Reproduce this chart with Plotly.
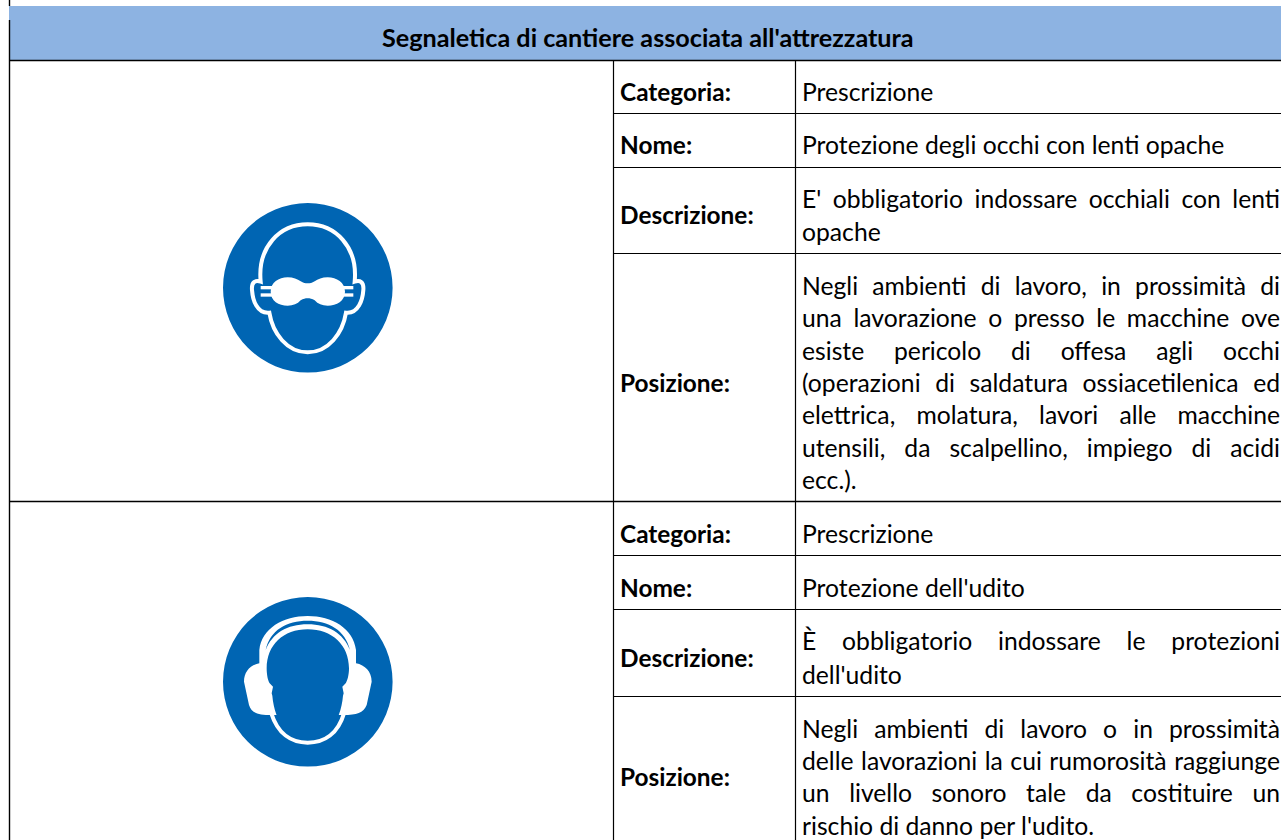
import json
import plotly.graph_objects as go

TITLE = "Segnaletica di cantiere associata all'attrezzatura"
LABELS = [("Categoria:", 92), ("Nome:", 145), ("Descrizione:", 215), ("Posizione:", 383),
          ("Categoria:", 534), ("Nome:", 588), ("Descrizione:", 658), ("Posizione:", 777)]
# (y centre, text, justified to the cell's right edge?)
LINES = [
    (92, "Prescrizione", False),
    (145, "Protezione degli occhi con lenti opache", False),
    (199, "E' obbligatorio indossare occhiali con lenti", True),
    (232, "opache", False),
    (286, "Negli ambienti di lavoro, in prossimità di", True),
    (318, "una lavorazione o presso le macchine ove", True),
    (351, "esiste pericolo di offesa agli occhi", True),
    (383, "(operazioni di saldatura ossiacetilenica ed", True),
    (415, "elettrica, molatura, lavori alle macchine", True),
    (448, "utensili, da scalpellino, impiego di acidi", True),
    (480, "ecc.).", False),
    (534, "Prescrizione", False),
    (588, "Protezione dell'udito", False),
    (641, "È obbligatorio indossare le protezioni", True),
    (675, "dell'udito", False),
    (729, "Negli ambienti di lavoro o in prossimità", True),
    (761, "delle lavorazioni la cui rumorosità raggiunge", True),
    (793, "un livello sonoro tale da costituire un", True),
    (826, "rischio di danno per l'udito.", False),
]
H_FULL = [60.5, 501.5]
H_RIGHT = [113.5, 167.5, 253.5, 555.5, 609.5, 696.5]
V_COLS = [613.5, 795.5]

BLUE = "#0065B3"
FONT = "Lato"
SIZE = 24.7
BOLD = 24.4
TITLE_SIZE = 25.2
TEXT_X = 800.5
TEXT_W = 478


def path(ox, oy, d):
    """Icon outline written in 3x-zoom units; converted to page units."""
    out = []
    for tok in d.split():
        if "," in tok:
            a, b = tok.split(",")
            out.append(f"{ox + float(a) / 3:.2f},{oy + float(b) / 3:.2f}")
        else:
            out.append(tok)
    return " ".join(out)


def shape_path(ox, oy, d, fill=None, line=None, w=0):
    s = dict(type="path", xref="x", yref="y", path=path(ox, oy, d), layer="above")
    s["fillcolor"] = fill if fill else "rgba(0,0,0,0)"
    s["line"] = dict(color=line, width=w) if line else dict(width=0)
    return s


def seg(x0, y0, x1, y1, w=1.4):
    return dict(type="line", xref="x", yref="y", x0=x0, y0=y0, x1=x1, y1=y1,
                line=dict(color="#000000", width=w), layer="above")


shapes = [dict(type="rect", xref="x", yref="y", x0=9, x1=1281, y0=6, y1=60,
               fillcolor="#8DB3E2", line=dict(width=0), layer="below")]
shapes += [seg(9.5, 0, 9.5, 6), seg(9.5, 20, 9.5, 840)]
shapes += [seg(9, y, 1281, y) for y in H_FULL]
shapes += [seg(613.5, y, 1281, y, 1.2) for y in H_RIGHT]
shapes += [seg(x, 60, x, 840, 1.2) for x in V_COLS]

# icon 1 : opaque goggles
ox, oy = 200, 190
shapes.append(dict(type="circle", xref="x", yref="y", x0=223, x1=392.6, y0=203, y1=372.6,
                   fillcolor=BLUE, line=dict(width=0), layer="above"))
shapes.append(shape_path(ox, oy,
    "M 182,275 C 172,170 240,103 323,103 C 406,103 474,170 464,275 C 480,270 492,275 490,300 "
    "C 488,330 475,372 438,368 C 428,430 385,487 323,487 C 261,487 218,430 208,368 "
    "C 171,372 158,330 156,300 C 154,275 166,270 182,275 Z", line="#FFFFFF", w=4))
shapes.append(shape_path(ox, oy,
    "M 212,305 C 212,278 236,262 263,262 C 280,262 292,267 302,274 C 310,279 316,280 323,280 "
    "C 330,280 336,279 344,274 C 354,267 366,262 383,262 C 410,262 435,278 435,305 "
    "C 435,332 410,347 383,347 C 366,347 354,342 344,331 C 336,326 330,325 323,325 "
    "C 316,325 310,326 302,331 C 292,342 280,347 263,347 C 236,347 212,332 212,305 Z", fill="#FFFFFF"))
for d in ["M 182,288 L 222,288 L 222,298 L 182,298 Z", "M 182,310 L 222,310 L 222,320 L 182,320 Z",
          "M 425,288 L 460,288 L 460,298 L 425,298 Z", "M 425,310 L 460,310 L 460,320 L 425,320 Z"]:
    shapes.append(shape_path(ox, oy, d, fill="#FFFFFF"))

# icon 2 : ear defenders
ox, oy = 200, 585
shapes.append(dict(type="circle", xref="x", yref="y", x0=223, x1=392.6, y0=597, y1=766.6,
                   fillcolor=BLUE, line=dict(width=0), layer="above"))
shapes.append(shape_path(ox, oy,
    "M 178,235 L 178,195 C 185,130 250,93 323,93 C 396,93 460,130 468,195 L 468,235 "
    "C 495,240 515,260 515,290 L 500,360 C 490,385 470,390 430,390 L 215,390 "
    "C 175,390 155,385 147,360 L 132,290 C 132,260 150,240 178,235 Z", fill="#FFFFFF"))
shapes.append(shape_path(ox, oy,
    "M 197,195 C 210,135 260,107 323,107 C 386,107 436,135 450,195 "
    "C 430,145 385,118 323,118 C 261,118 217,145 197,195 Z", fill=BLUE))
shapes.append(shape_path(ox, oy,
    "M 200,250 C 200,180 250,133 323,133 C 396,133 447,180 447,250 C 447,270 442,288 437,295 "
    "L 427,305 L 431,325 L 429,332 C 422,415 375,466 323,466 C 271,466 224,415 217,332 "
    "L 215,325 L 219,305 L 209,295 C 204,288 200,270 200,250 Z", fill=BLUE))
shapes.append(shape_path(ox, oy,
    "M 214,385 C 233,445 273,473 323,473 C 374,473 414,445 432,385", line="#FFFFFF", w=4))

annotations = [dict(x=647.5, y=37, text=f"<b>{TITLE}</b>", xanchor="center", yanchor="middle",
                    showarrow=False, font=dict(family=FONT, size=TITLE_SIZE, color="#000000"))]
for text, y in LABELS:
    annotations.append(dict(x=619, y=y - 1, text=f"<b>{text}</b>", xanchor="left", yanchor="middle",
                            showarrow=False, font=dict(family=FONT, size=BOLD, color="#000000")))
for y, text, _ in LINES:
    annotations.append(dict(x=TEXT_X, y=y - 1, text=text, xanchor="left", yanchor="middle", align="left",
                            showarrow=False, font=dict(family=FONT, size=SIZE, color="#000000")))
for a in annotations:
    a.update(xref="x", yref="y", borderpad=0)

fig = go.Figure()
fig.add_trace(go.Scatter(x=[], y=[]))
fig.update_layout(
    width=1281, height=840, margin=dict(l=0, r=0, t=0, b=0),
    paper_bgcolor="#FFFFFF", plot_bgcolor="#FFFFFF", showlegend=False,
    xaxis=dict(range=[0, 1281], visible=False, fixedrange=True),
    yaxis=dict(range=[840, 0], visible=False, fixedrange=True),
    shapes=shapes, annotations=annotations,
)

justified = [t for _, t, j in LINES if j]
post = """
document.body.style.margin='0';document.body.style.overflow='hidden';
(function(){
  var J=%s, W=%d;
  function just(){
    document.querySelectorAll('.annotation-text').forEach(function(t){
      var s=t.textContent;
      if(J.indexOf(s)<0) return;
      t.style.wordSpacing='0px';
      var n=s.split(' ').length-1;
      t.style.wordSpacing=((W-t.getComputedTextLength())/n)+'px';
    });
  }
  just(); setTimeout(just,50); setTimeout(just,300);
})();
""" % (json.dumps(justified, ensure_ascii=False), TEXT_W)
fig.write_html("out.html", config=dict(displayModeBar=False), post_script=post)
